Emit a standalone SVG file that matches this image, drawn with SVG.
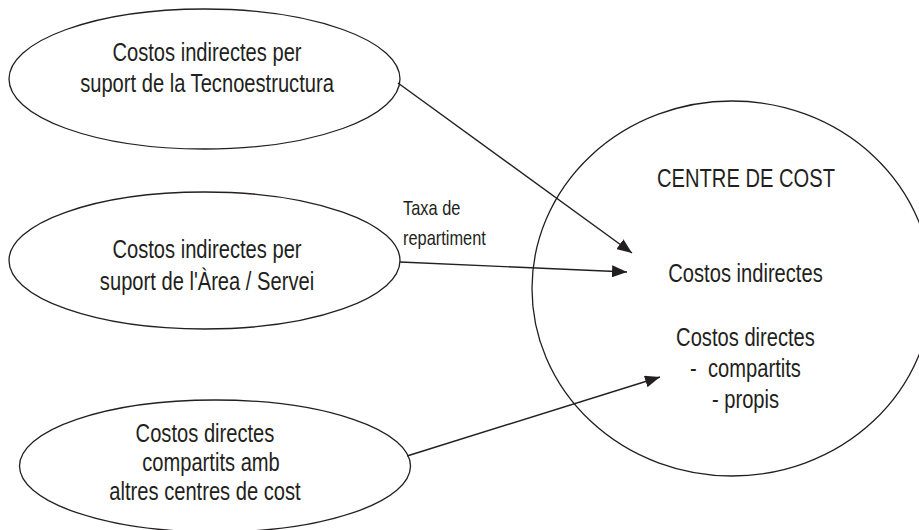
<svg xmlns="http://www.w3.org/2000/svg" width="919" height="530" viewBox="0 0 919 530">
<style>
.shape{fill:none;stroke:#231f20;stroke-width:1.3}
.conn{fill:none;stroke:#231f20;stroke-width:1.4}
.t{font-family:"Liberation Sans",Arial,sans-serif;font-size:25.5px;fill:#231f20;text-anchor:middle}
.lbl{font-family:"Liberation Sans",Arial,sans-serif;font-size:20px;fill:#231f20}
</style>
<defs>
<marker id="arr" markerUnits="userSpaceOnUse" markerWidth="16" markerHeight="12" refX="15" refY="6" orient="auto" viewBox="0 0 16 12">
<path d="M0,0 L15,6 L0,12 z" fill="#231f20"/>
</marker>
</defs>
<rect width="919" height="530" fill="#ffffff"/>
<g id="node-tecnoestructura">
<ellipse class="shape" cx="204.5" cy="79" rx="195.5" ry="70"/>
<text class="t" transform="translate(207,60.5) scale(0.79,1)">Costos indirectes per</text>
<text class="t" transform="translate(207,92) scale(0.79,1)">suport de la Tecnoestructura</text>
</g>
<g id="node-area">
<ellipse class="shape" cx="204.5" cy="260.5" rx="195.5" ry="68.5"/>
<text class="t" transform="translate(207,258) scale(0.79,1)">Costos indirectes per</text>
<text class="t" transform="translate(207,290) scale(0.79,1)">suport de l'Àrea / Servei</text>
</g>
<g id="node-compartits">
<ellipse class="shape" cx="215" cy="466" rx="195.5" ry="66"/>
<text class="t" transform="translate(205,442) scale(0.79,1)">Costos directes</text>
<text class="t" transform="translate(211,471) scale(0.79,1)">compartits amb</text>
<text class="t" transform="translate(205,500) scale(0.79,1)">altres centres de cost</text>
</g>
<g id="node-centre">
<ellipse class="shape" cx="732" cy="288.5" rx="200" ry="187.5"/>
<text class="t" transform="translate(746,187) scale(0.79,1)">CENTRE DE COST</text>
<text class="t" transform="translate(745.5,282) scale(0.79,1)">Costos indirectes</text>
<text class="t" transform="translate(745.5,346) scale(0.79,1)">Costos directes</text>
<text class="t" xml:space="preserve" transform="translate(745.5,377) scale(0.79,1)">-  compartits</text>
<text class="t" transform="translate(745.5,408) scale(0.79,1)">- propis</text>
</g>
<g id="connectors">
<line class="conn" x1="398" y1="83" x2="632" y2="253" marker-end="url(#arr)"/>
<line class="conn" x1="400" y1="262" x2="627" y2="272" marker-end="url(#arr)"/>
<line class="conn" x1="407" y1="456" x2="660" y2="377" marker-end="url(#arr)"/>
<text class="lbl" transform="translate(403,215) scale(0.82,1)">Taxa de</text>
<text class="lbl" transform="translate(403,245) scale(0.82,1)">repartiment</text>
</g>
</svg>
